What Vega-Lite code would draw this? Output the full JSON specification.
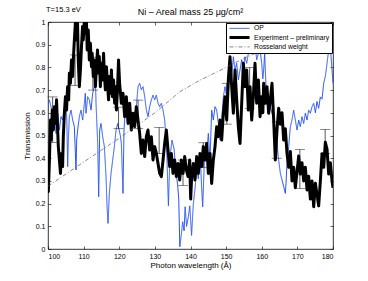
{
  "$schema": "https://vega.github.io/schema/vega-lite/v6.json",
  "width": 285,
  "height": 227,
  "autosize": {"type": "none"},
  "padding": {"left": 48, "top": 22, "right": 35, "bottom": 32},
  "background": "white",
  "config": {
    "font": "Liberation Sans",
    "view": {"stroke": "#000", "strokeWidth": 0.8},
    "axis": {"grid": false, "domain": false, "tickColor": "#000", "tickSize": -3, "tickWidth": 0.6, "labelFontSize": 7, "labelColor": "#000", "titleFontSize": 8, "titleFontWeight": "normal", "titleColor": "#000", "labelPadding": 6, "minExtent": 0},
    "legend": {"orient": "top-right", "offset": 1, "padding": 2, "rowPadding": -1.5, "labelFontSize": 6.8, "labelColor": "#000", "symbolType": "M-1,0L7,0", "symbolSize": 25, "strokeColor": "#000", "fillColor": "#fff", "labelLimit": 200, "labelOffset": 18}
  },
  "title": {"text": "Ni – Areal mass  25 μg/cm²", "fontSize": 9, "fontWeight": "normal", "offset": 5, "dy": 16, "anchor": "middle", "color": "#000"},
  "datasets": {
    "spectra": [
      {"series":"OP","wl":100.0,"T":0.64},{"series":"OP","wl":100.38,"T":0.657},{"series":"OP","wl":100.84,"T":0.627},{"series":"OP","wl":101.31,"T":0.568},{"series":"OP","wl":101.78,"T":0.598},{"series":"OP","wl":102.25,"T":0.509},{"series":"OP","wl":102.72,"T":0.598},{"series":"OP","wl":103.18,"T":0.524},{"series":"OP","wl":103.65,"T":0.583},{"series":"OP","wl":104.12,"T":0.568},{"series":"OP","wl":104.59,"T":0.627},{"series":"OP","wl":105.06,"T":0.642},{"series":"OP","wl":105.3,"T":0.553},{"series":"OP","wl":105.52,"T":0.363},{"series":"OP","wl":105.71,"T":0.48},{"series":"OP","wl":105.99,"T":0.583},{"series":"OP","wl":106.46,"T":0.612},{"series":"OP","wl":106.93,"T":0.568},{"series":"OP","wl":107.4,"T":0.539},{"series":"OP","wl":107.86,"T":0.348},{"series":"OP","wl":108.05,"T":0.48},{"series":"OP","wl":108.33,"T":0.524},{"series":"OP","wl":108.8,"T":0.583},{"series":"OP","wl":109.27,"T":0.612},{"series":"OP","wl":109.74,"T":0.568},{"series":"OP","wl":110.2,"T":0.642},{"series":"OP","wl":110.48,"T":0.686},{"series":"OP","wl":110.67,"T":0.598},{"series":"OP","wl":111.14,"T":0.671},{"series":"OP","wl":111.61,"T":0.657},{"series":"OP","wl":112.08,"T":0.612},{"series":"OP","wl":112.54,"T":0.686},{"series":"OP","wl":113.01,"T":0.715},{"series":"OP","wl":113.29,"T":0.76},{"series":"OP","wl":113.48,"T":0.642},{"series":"OP","wl":113.95,"T":0.465},{"series":"OP","wl":114.23,"T":0.23},{"series":"OP","wl":114.51,"T":0.524},{"series":"OP","wl":114.88,"T":0.553},{"series":"OP","wl":115.35,"T":0.495},{"series":"OP","wl":115.82,"T":0.451},{"series":"OP","wl":116.29,"T":0.319},{"series":"OP","wl":116.57,"T":0.186},{"series":"OP","wl":116.85,"T":0.113},{"series":"OP","wl":117.22,"T":0.245},{"series":"OP","wl":117.69,"T":0.333},{"series":"OP","wl":118.16,"T":0.392},{"series":"OP","wl":118.63,"T":0.451},{"series":"OP","wl":119.1,"T":0.524},{"series":"OP","wl":119.56,"T":0.553},{"series":"OP","wl":120.03,"T":0.52},{"series":"OP","wl":120.35,"T":0.495},{"series":"OP","wl":120.59,"T":0.465},{"series":"OP","wl":121.05,"T":0.245},{"series":"OP","wl":121.33,"T":0.524},{"series":"OP","wl":121.71,"T":0.612},{"series":"OP","wl":121.99,"T":0.642},{"series":"OP","wl":122.46,"T":0.598},{"series":"OP","wl":122.93,"T":0.612},{"series":"OP","wl":123.39,"T":0.568},{"series":"OP","wl":123.86,"T":0.553},{"series":"OP","wl":124.33,"T":0.598},{"series":"OP","wl":124.8,"T":0.627},{"series":"OP","wl":125.27,"T":0.715},{"series":"OP","wl":125.73,"T":0.73},{"series":"OP","wl":126.2,"T":0.701},{"series":"OP","wl":126.67,"T":0.715},{"series":"OP","wl":127.14,"T":0.671},{"series":"OP","wl":127.61,"T":0.612},{"series":"OP","wl":128.07,"T":0.583},{"series":"OP","wl":128.54,"T":0.627},{"series":"OP","wl":129.01,"T":0.657},{"series":"OP","wl":129.48,"T":0.678},{"series":"OP","wl":129.95,"T":0.657},{"series":"OP","wl":130.41,"T":0.678},{"series":"OP","wl":130.88,"T":0.642},{"series":"OP","wl":131.35,"T":0.627},{"series":"OP","wl":131.82,"T":0.642},{"series":"OP","wl":132.29,"T":0.612},{"series":"OP","wl":132.75,"T":0.568},{"series":"OP","wl":133.3,"T":0.45},{"series":"OP","wl":133.8,"T":0.19},{"series":"OP","wl":134.2,"T":0.4},{"series":"OP","wl":134.8,"T":0.48},{"series":"OP","wl":135.4,"T":0.44},{"series":"OP","wl":135.8,"T":0.36},{"series":"OP","wl":136.4,"T":0.28},{"series":"OP","wl":136.7,"T":0.22},{"series":"OP","wl":137.0,"T":0.01},{"series":"OP","wl":137.4,"T":0.06},{"series":"OP","wl":137.8,"T":0.12},{"series":"OP","wl":138.2,"T":0.08},{"series":"OP","wl":138.5,"T":0.186},{"series":"OP","wl":138.9,"T":0.1},{"series":"OP","wl":139.4,"T":0.142},{"series":"OP","wl":139.8,"T":0.19},{"series":"OP","wl":140.3,"T":0.06},{"series":"OP","wl":140.8,"T":0.2},{"series":"OP","wl":141.3,"T":0.27},{"series":"OP","wl":141.7,"T":0.36},{"series":"OP","wl":142.2,"T":0.31},{"series":"OP","wl":142.7,"T":0.42},{"series":"OP","wl":143.1,"T":0.28},{"series":"OP","wl":143.42,"T":0.186},{"series":"OP","wl":143.8,"T":0.35},{"series":"OP","wl":144.07,"T":0.451},{"series":"OP","wl":144.54,"T":0.421},{"series":"OP","wl":145.01,"T":0.509},{"series":"OP","wl":145.48,"T":0.392},{"series":"OP","wl":145.94,"T":0.612},{"series":"OP","wl":146.41,"T":0.568},{"series":"OP","wl":146.88,"T":0.627},{"series":"OP","wl":147.35,"T":0.612},{"series":"OP","wl":147.82,"T":0.553},{"series":"OP","wl":148.28,"T":0.48},{"series":"OP","wl":148.75,"T":0.568},{"series":"OP","wl":149.22,"T":0.671},{"series":"OP","wl":149.69,"T":0.715},{"series":"OP","wl":150.16,"T":0.671},{"series":"OP","wl":150.62,"T":0.774},{"series":"OP","wl":151.09,"T":0.803},{"series":"OP","wl":151.56,"T":0.76},{"series":"OP","wl":152.03,"T":0.847},{"series":"OP","wl":152.5,"T":0.789},{"series":"OP","wl":152.96,"T":0.818},{"series":"OP","wl":153.43,"T":0.745},{"series":"OP","wl":153.9,"T":0.789},{"series":"OP","wl":154.37,"T":0.833},{"series":"OP","wl":154.84,"T":0.803},{"series":"OP","wl":155.3,"T":0.847},{"series":"OP","wl":155.77,"T":0.818},{"series":"OP","wl":156.24,"T":0.862},{"series":"OP","wl":156.71,"T":0.892},{"series":"OP","wl":157.18,"T":0.921},{"series":"OP","wl":157.64,"T":0.877},{"series":"OP","wl":158.11,"T":0.906},{"series":"OP","wl":158.58,"T":0.833},{"series":"OP","wl":159.05,"T":0.862},{"series":"OP","wl":159.52,"T":0.877},{"series":"OP","wl":159.98,"T":0.818},{"series":"OP","wl":160.3,"T":0.75},{"series":"OP","wl":160.54,"T":0.789},{"series":"OP","wl":160.82,"T":0.862},{"series":"OP","wl":161.19,"T":0.715},{"series":"OP","wl":161.47,"T":0.642},{"series":"OP","wl":161.94,"T":0.671},{"series":"OP","wl":162.41,"T":0.627},{"series":"OP","wl":162.88,"T":0.598},{"series":"OP","wl":163.35,"T":0.568},{"series":"OP","wl":163.81,"T":0.524},{"series":"OP","wl":164.28,"T":0.465},{"series":"OP","wl":164.75,"T":0.392},{"series":"OP","wl":165.22,"T":0.333},{"series":"OP","wl":165.69,"T":0.304},{"series":"OP","wl":166.15,"T":0.275},{"series":"OP","wl":166.62,"T":0.245},{"series":"OP","wl":166.81,"T":0.289},{"series":"OP","wl":167.09,"T":0.377},{"series":"OP","wl":167.56,"T":0.451},{"series":"OP","wl":168.03,"T":0.539},{"series":"OP","wl":168.49,"T":0.568},{"series":"OP","wl":168.96,"T":0.612},{"series":"OP","wl":169.43,"T":0.568},{"series":"OP","wl":169.9,"T":0.524},{"series":"OP","wl":170.37,"T":0.568},{"series":"OP","wl":170.83,"T":0.539},{"series":"OP","wl":171.3,"T":0.583},{"series":"OP","wl":171.77,"T":0.553},{"series":"OP","wl":172.24,"T":0.598},{"series":"OP","wl":172.71,"T":0.568},{"series":"OP","wl":173.17,"T":0.612},{"series":"OP","wl":173.64,"T":0.598},{"series":"OP","wl":174.11,"T":0.627},{"series":"OP","wl":174.58,"T":0.642},{"series":"OP","wl":175.05,"T":0.6},{"series":"OP","wl":175.51,"T":0.65},{"series":"OP","wl":175.98,"T":0.62},{"series":"OP","wl":176.45,"T":0.67},{"series":"OP","wl":176.92,"T":0.66},{"series":"OP","wl":177.39,"T":0.73},{"series":"OP","wl":177.85,"T":0.76},{"series":"OP","wl":178.32,"T":0.818},{"series":"OP","wl":178.79,"T":0.877},{"series":"OP","wl":179.07,"T":0.892},{"series":"OP","wl":179.45,"T":0.848},{"series":"OP","wl":179.73,"T":0.789},{"series":"OP","wl":180.0,"T":0.73},
      {"series":"Experiment – preliminary","wl":100.0,"T":0.26},{"series":"Experiment – preliminary","wl":100.1,"T":0.253},{"series":"Experiment – preliminary","wl":100.4,"T":0.392},{"series":"Experiment – preliminary","wl":100.7,"T":0.568},{"series":"Experiment – preliminary","wl":100.9,"T":0.48},{"series":"Experiment – preliminary","wl":101.2,"T":0.612},{"series":"Experiment – preliminary","wl":101.5,"T":0.524},{"series":"Experiment – preliminary","wl":101.8,"T":0.627},{"series":"Experiment – preliminary","wl":102.1,"T":0.553},{"series":"Experiment – preliminary","wl":102.4,"T":0.657},{"series":"Experiment – preliminary","wl":102.6,"T":0.568},{"series":"Experiment – preliminary","wl":102.9,"T":0.451},{"series":"Experiment – preliminary","wl":103.2,"T":0.392},{"series":"Experiment – preliminary","wl":103.5,"T":0.333},{"series":"Experiment – preliminary","wl":103.8,"T":0.421},{"series":"Experiment – preliminary","wl":104.1,"T":0.363},{"series":"Experiment – preliminary","wl":104.3,"T":0.495},{"series":"Experiment – preliminary","wl":104.6,"T":0.598},{"series":"Experiment – preliminary","wl":104.9,"T":0.671},{"series":"Experiment – preliminary","wl":105.2,"T":0.612},{"series":"Experiment – preliminary","wl":105.5,"T":0.715},{"series":"Experiment – preliminary","wl":105.8,"T":0.657},{"series":"Experiment – preliminary","wl":106.0,"T":0.774},{"series":"Experiment – preliminary","wl":106.3,"T":0.73},{"series":"Experiment – preliminary","wl":106.6,"T":0.833},{"series":"Experiment – preliminary","wl":106.9,"T":0.76},{"series":"Experiment – preliminary","wl":107.2,"T":0.862},{"series":"Experiment – preliminary","wl":107.4,"T":0.921},{"series":"Experiment – preliminary","wl":107.7,"T":1.0},{"series":"Experiment – preliminary","wl":108.0,"T":0.921},{"series":"Experiment – preliminary","wl":108.3,"T":0.994},{"series":"Experiment – preliminary","wl":108.5,"T":0.833},{"series":"Experiment – preliminary","wl":108.8,"T":0.715},{"series":"Experiment – preliminary","wl":109.1,"T":0.789},{"series":"Experiment – preliminary","wl":109.4,"T":0.892},{"series":"Experiment – preliminary","wl":109.7,"T":0.98},{"series":"Experiment – preliminary","wl":109.9,"T":0.921},{"series":"Experiment – preliminary","wl":110.2,"T":1.0},{"series":"Experiment – preliminary","wl":110.5,"T":0.95},{"series":"Experiment – preliminary","wl":110.8,"T":1.0},{"series":"Experiment – preliminary","wl":111.0,"T":0.877},{"series":"Experiment – preliminary","wl":111.3,"T":0.965},{"series":"Experiment – preliminary","wl":111.6,"T":0.833},{"series":"Experiment – preliminary","wl":111.9,"T":0.906},{"series":"Experiment – preliminary","wl":112.2,"T":0.803},{"series":"Experiment – preliminary","wl":112.4,"T":0.862},{"series":"Experiment – preliminary","wl":112.7,"T":0.76},{"series":"Experiment – preliminary","wl":113.0,"T":0.833},{"series":"Experiment – preliminary","wl":113.3,"T":0.715},{"series":"Experiment – preliminary","wl":113.6,"T":0.803},{"series":"Experiment – preliminary","wl":113.9,"T":0.877},{"series":"Experiment – preliminary","wl":114.2,"T":0.774},{"series":"Experiment – preliminary","wl":114.4,"T":0.848},{"series":"Experiment – preliminary","wl":114.7,"T":0.715},{"series":"Experiment – preliminary","wl":115.0,"T":0.818},{"series":"Experiment – preliminary","wl":115.3,"T":0.745},{"series":"Experiment – preliminary","wl":115.6,"T":0.862},{"series":"Experiment – preliminary","wl":115.8,"T":0.774},{"series":"Experiment – preliminary","wl":116.1,"T":0.701},{"series":"Experiment – preliminary","wl":116.4,"T":0.803},{"series":"Experiment – preliminary","wl":116.7,"T":0.73},{"series":"Experiment – preliminary","wl":117.0,"T":0.657},{"series":"Experiment – preliminary","wl":117.3,"T":0.76},{"series":"Experiment – preliminary","wl":117.6,"T":0.686},{"series":"Experiment – preliminary","wl":117.8,"T":0.789},{"series":"Experiment – preliminary","wl":118.1,"T":0.671},{"series":"Experiment – preliminary","wl":118.4,"T":0.745},{"series":"Experiment – preliminary","wl":118.7,"T":0.642},{"series":"Experiment – preliminary","wl":119.0,"T":0.715},{"series":"Experiment – preliminary","wl":119.2,"T":0.612},{"series":"Experiment – preliminary","wl":119.5,"T":0.701},{"series":"Experiment – preliminary","wl":119.8,"T":0.833},{"series":"Experiment – preliminary","wl":120.1,"T":0.73},{"series":"Experiment – preliminary","wl":120.59,"T":0.642},{"series":"Experiment – preliminary","wl":121.05,"T":0.686},{"series":"Experiment – preliminary","wl":121.52,"T":0.583},{"series":"Experiment – preliminary","wl":121.99,"T":0.671},{"series":"Experiment – preliminary","wl":122.46,"T":0.553},{"series":"Experiment – preliminary","wl":122.93,"T":0.642},{"series":"Experiment – preliminary","wl":123.39,"T":0.524},{"series":"Experiment – preliminary","wl":123.86,"T":0.598},{"series":"Experiment – preliminary","wl":124.33,"T":0.539},{"series":"Experiment – preliminary","wl":124.8,"T":0.627},{"series":"Experiment – preliminary","wl":125.27,"T":0.568},{"series":"Experiment – preliminary","wl":125.73,"T":0.509},{"series":"Experiment – preliminary","wl":126.2,"T":0.421},{"series":"Experiment – preliminary","wl":126.67,"T":0.48},{"series":"Experiment – preliminary","wl":127.14,"T":0.407},{"series":"Experiment – preliminary","wl":127.61,"T":0.495},{"series":"Experiment – preliminary","wl":128.07,"T":0.524},{"series":"Experiment – preliminary","wl":128.54,"T":0.436},{"series":"Experiment – preliminary","wl":129.01,"T":0.495},{"series":"Experiment – preliminary","wl":129.48,"T":0.392},{"series":"Experiment – preliminary","wl":129.95,"T":0.451},{"series":"Experiment – preliminary","wl":130.41,"T":0.421},{"series":"Experiment – preliminary","wl":130.88,"T":0.377},{"series":"Experiment – preliminary","wl":131.35,"T":0.333},{"series":"Experiment – preliminary","wl":131.82,"T":0.319},{"series":"Experiment – preliminary","wl":132.29,"T":0.392},{"series":"Experiment – preliminary","wl":132.75,"T":0.465},{"series":"Experiment – preliminary","wl":133.22,"T":0.524},{"series":"Experiment – preliminary","wl":133.69,"T":0.436},{"series":"Experiment – preliminary","wl":134.16,"T":0.363},{"series":"Experiment – preliminary","wl":134.63,"T":0.421},{"series":"Experiment – preliminary","wl":135.09,"T":0.333},{"series":"Experiment – preliminary","wl":135.56,"T":0.392},{"series":"Experiment – preliminary","wl":136.03,"T":0.319},{"series":"Experiment – preliminary","wl":136.5,"T":0.377},{"series":"Experiment – preliminary","wl":136.97,"T":0.304},{"series":"Experiment – preliminary","wl":137.43,"T":0.392},{"series":"Experiment – preliminary","wl":137.9,"T":0.333},{"series":"Experiment – preliminary","wl":138.37,"T":0.407},{"series":"Experiment – preliminary","wl":138.84,"T":0.348},{"series":"Experiment – preliminary","wl":139.31,"T":0.319},{"series":"Experiment – preliminary","wl":139.77,"T":0.392},{"series":"Experiment – preliminary","wl":140.05,"T":0.22},{"series":"Experiment – preliminary","wl":140.33,"T":0.319},{"series":"Experiment – preliminary","wl":140.8,"T":0.377},{"series":"Experiment – preliminary","wl":141.26,"T":0.304},{"series":"Experiment – preliminary","wl":141.73,"T":0.407},{"series":"Experiment – preliminary","wl":142.2,"T":0.333},{"series":"Experiment – preliminary","wl":142.67,"T":0.421},{"series":"Experiment – preliminary","wl":143.14,"T":0.363},{"series":"Experiment – preliminary","wl":143.6,"T":0.451},{"series":"Experiment – preliminary","wl":144.07,"T":0.392},{"series":"Experiment – preliminary","wl":144.54,"T":0.465},{"series":"Experiment – preliminary","wl":145.01,"T":0.333},{"series":"Experiment – preliminary","wl":145.48,"T":0.421},{"series":"Experiment – preliminary","wl":145.94,"T":0.289},{"series":"Experiment – preliminary","wl":146.41,"T":0.392},{"series":"Experiment – preliminary","wl":146.88,"T":0.451},{"series":"Experiment – preliminary","wl":147.35,"T":0.539},{"series":"Experiment – preliminary","wl":147.82,"T":0.495},{"series":"Experiment – preliminary","wl":148.28,"T":0.568},{"series":"Experiment – preliminary","wl":148.75,"T":0.48},{"series":"Experiment – preliminary","wl":149.22,"T":0.598},{"series":"Experiment – preliminary","wl":149.69,"T":0.671},{"series":"Experiment – preliminary","wl":150.16,"T":0.568},{"series":"Experiment – preliminary","wl":150.62,"T":0.745},{"series":"Experiment – preliminary","wl":151.09,"T":0.847},{"series":"Experiment – preliminary","wl":151.56,"T":0.715},{"series":"Experiment – preliminary","wl":152.03,"T":0.598},{"series":"Experiment – preliminary","wl":152.5,"T":0.789},{"series":"Experiment – preliminary","wl":152.96,"T":0.657},{"series":"Experiment – preliminary","wl":153.43,"T":0.539},{"series":"Experiment – preliminary","wl":153.9,"T":0.465},{"series":"Experiment – preliminary","wl":154.37,"T":0.642},{"series":"Experiment – preliminary","wl":154.84,"T":0.818},{"series":"Experiment – preliminary","wl":155.3,"T":0.715},{"series":"Experiment – preliminary","wl":155.77,"T":0.789},{"series":"Experiment – preliminary","wl":156.24,"T":0.612},{"series":"Experiment – preliminary","wl":156.71,"T":0.715},{"series":"Experiment – preliminary","wl":157.18,"T":0.568},{"series":"Experiment – preliminary","wl":157.64,"T":0.671},{"series":"Experiment – preliminary","wl":158.11,"T":0.818},{"series":"Experiment – preliminary","wl":158.58,"T":0.642},{"series":"Experiment – preliminary","wl":159.05,"T":0.745},{"series":"Experiment – preliminary","wl":159.52,"T":0.583},{"series":"Experiment – preliminary","wl":159.98,"T":0.671},{"series":"Experiment – preliminary","wl":160.3,"T":0.6},{"series":"Experiment – preliminary","wl":160.54,"T":0.73},{"series":"Experiment – preliminary","wl":161.0,"T":0.642},{"series":"Experiment – preliminary","wl":161.47,"T":0.715},{"series":"Experiment – preliminary","wl":161.94,"T":0.598},{"series":"Experiment – preliminary","wl":162.41,"T":0.657},{"series":"Experiment – preliminary","wl":162.88,"T":0.73},{"series":"Experiment – preliminary","wl":163.35,"T":0.568},{"series":"Experiment – preliminary","wl":163.81,"T":0.392},{"series":"Experiment – preliminary","wl":164.28,"T":0.524},{"series":"Experiment – preliminary","wl":164.75,"T":0.62},{"series":"Experiment – preliminary","wl":165.22,"T":0.55},{"series":"Experiment – preliminary","wl":165.69,"T":0.6},{"series":"Experiment – preliminary","wl":166.15,"T":0.48},{"series":"Experiment – preliminary","wl":166.62,"T":0.53},{"series":"Experiment – preliminary","wl":167.09,"T":0.42},{"series":"Experiment – preliminary","wl":167.56,"T":0.36},{"series":"Experiment – preliminary","wl":168.03,"T":0.43},{"series":"Experiment – preliminary","wl":168.49,"T":0.3},{"series":"Experiment – preliminary","wl":168.96,"T":0.36},{"series":"Experiment – preliminary","wl":169.43,"T":0.27},{"series":"Experiment – preliminary","wl":169.9,"T":0.34},{"series":"Experiment – preliminary","wl":170.37,"T":0.41},{"series":"Experiment – preliminary","wl":170.83,"T":0.33},{"series":"Experiment – preliminary","wl":171.3,"T":0.38},{"series":"Experiment – preliminary","wl":171.77,"T":0.3},{"series":"Experiment – preliminary","wl":172.24,"T":0.36},{"series":"Experiment – preliminary","wl":172.71,"T":0.26},{"series":"Experiment – preliminary","wl":173.17,"T":0.32},{"series":"Experiment – preliminary","wl":173.64,"T":0.22},{"series":"Experiment – preliminary","wl":174.11,"T":0.3},{"series":"Experiment – preliminary","wl":174.58,"T":0.186},{"series":"Experiment – preliminary","wl":175.05,"T":0.29},{"series":"Experiment – preliminary","wl":175.51,"T":0.24},{"series":"Experiment – preliminary","wl":175.98,"T":0.19},{"series":"Experiment – preliminary","wl":176.45,"T":0.3},{"series":"Experiment – preliminary","wl":176.92,"T":0.42},{"series":"Experiment – preliminary","wl":177.39,"T":0.36},{"series":"Experiment – preliminary","wl":177.85,"T":0.47},{"series":"Experiment – preliminary","wl":178.32,"T":0.44},{"series":"Experiment – preliminary","wl":178.79,"T":0.33},{"series":"Experiment – preliminary","wl":179.26,"T":0.38},{"series":"Experiment – preliminary","wl":179.73,"T":0.3},{"series":"Experiment – preliminary","wl":180.0,"T":0.27},
      {"series":"Rosseland weight","wl":100,"T":0.277},{"series":"Rosseland weight","wl":110,"T":0.383},{"series":"Rosseland weight","wl":120,"T":0.488},{"series":"Rosseland weight","wl":130,"T":0.6},{"series":"Rosseland weight","wl":137,"T":0.693},{"series":"Rosseland weight","wl":142.7,"T":0.744},{"series":"Rosseland weight","wl":150,"T":0.8},{"series":"Rosseland weight","wl":155,"T":0.84},{"series":"Rosseland weight","wl":161.4,"T":0.884},{"series":"Rosseland weight","wl":170,"T":0.93},{"series":"Rosseland weight","wl":180,"T":0.96}
    ],
    "bars": [
      {"wl":101.3,"lo":0.47,"hi":0.67},{"wl":107.6,"lo":0.72,"hi":0.855},{"wl":112.6,"lo":0.7,"hi":0.845},{"wl":119.8,"lo":0.53,"hi":0.625},{"wl":125.3,"lo":0.53,"hi":0.656},{"wl":131.2,"lo":0.42,"hi":0.536},{"wl":137.9,"lo":0.28,"hi":0.392},{"wl":143.6,"lo":0.36,"hi":0.468},{"wl":150.2,"lo":0.55,"hi":0.73},{"wl":156.6,"lo":0.62,"hi":0.8},{"wl":164.2,"lo":0.4,"hi":0.56},{"wl":170.7,"lo":0.267,"hi":0.438},{"wl":177.8,"lo":0.42,"hi":0.527}
    ]
  },
  "layer": [
    {
      "data": {"name": "spectra"},
      "transform": [{"filter": "datum.series === 'OP'"}],
      "mark": {"type": "line", "clip": true, "strokeJoin": "round"},
      "encoding": {
        "x": {"field": "wl", "type": "quantitative", "scale": {"domain": [100, 180], "nice": false, "zero": false}, "axis": {"title": "Photon wavelength (Å)", "values": [100,110,120,130,140,150,160,170,180], "titlePadding": 2}},
        "y": {"field": "T", "type": "quantitative", "scale": {"domain": [0, 1], "nice": false}, "axis": {"title": "Transmission", "values": [0,0.1,0.2,0.3,0.4,0.5,0.6,0.7,0.8,0.9,1], "format": "~g", "titlePadding": 4}},
        "color": {"field": "series", "type": "nominal", "scale": {"domain": ["OP", "Experiment – preliminary", "Rosseland weight"], "range": ["#2450f5", "#000000", "#555555"]}, "legend": {"title": null}},
        "strokeDash": {"field": "series", "type": "nominal", "scale": {"domain": ["OP", "Experiment – preliminary", "Rosseland weight"], "range": [[1,0],[1,0],[4,2,1,2]]}, "legend": {"title": null}},
        "strokeWidth": {"field": "series", "type": "nominal", "scale": {"type": "ordinal", "domain": ["OP", "Experiment – preliminary", "Rosseland weight"], "range": [1, 3, 0.7]}, "legend": {"title": null}}
      }
    },
    {
      "data": {"name": "bars"},
      "mark": {"type": "rule", "color": "#111", "strokeWidth": 0.7},
      "encoding": {
        "x": {"field": "wl", "type": "quantitative", "axis": null},
        "y": {"field": "lo", "type": "quantitative", "axis": null},
        "y2": {"field": "hi"}
      }
    },
    {
      "data": {"name": "bars"},
      "mark": {"type": "tick", "orient": "horizontal", "color": "#111", "size": 10, "thickness": 0.7},
      "encoding": {
        "x": {"field": "wl", "type": "quantitative", "axis": null},
        "y": {"field": "lo", "type": "quantitative", "axis": null}
      }
    },
    {
      "data": {"name": "bars"},
      "mark": {"type": "tick", "orient": "horizontal", "color": "#111", "size": 10, "thickness": 0.7},
      "encoding": {
        "x": {"field": "wl", "type": "quantitative", "axis": null},
        "y": {"field": "hi", "type": "quantitative", "axis": null}
      }
    },
    {
      "data": {"name": "spectra"},
      "transform": [{"filter": "datum.series !== 'OP'"}],
      "mark": {"type": "line", "clip": true, "strokeJoin": "round"},
      "encoding": {
        "x": {"field": "wl", "type": "quantitative", "scale": {"domain": [100, 180], "nice": false, "zero": false}, "axis": {"orient": "top", "labels": false, "title": null, "labelPadding": 0, "values": [100,110,120,130,140,150,160,170,180]}},
        "y": {"field": "T", "type": "quantitative", "scale": {"domain": [0, 1], "nice": false}, "axis": {"orient": "right", "labels": false, "title": null, "labelPadding": 0, "values": [0,0.1,0.2,0.3,0.4,0.5,0.6,0.7,0.8,0.9,1]}},
        "color": {"field": "series", "type": "nominal", "scale": {"domain": ["OP", "Experiment – preliminary", "Rosseland weight"], "range": ["#2450f5", "#000000", "#555555"]}, "legend": {"title": null}},
        "strokeDash": {"field": "series", "type": "nominal", "scale": {"domain": ["OP", "Experiment – preliminary", "Rosseland weight"], "range": [[1,0],[1,0],[4,2,1,2]]}, "legend": {"title": null}},
        "strokeWidth": {"field": "series", "type": "nominal", "scale": {"type": "ordinal", "domain": ["OP", "Experiment – preliminary", "Rosseland weight"], "range": [1, 3, 0.7]}, "legend": {"title": null}}
      }
    },
    {
      "data": {"values": [{"label": "T=15.3 eV", "wl": 100, "T": 1}]},
      "mark": {"type": "text", "align": "left", "baseline": "alphabetic", "dy": -10, "dx": -2, "fontSize": 7.5, "color": "#000"},
      "encoding": {
        "x": {"field": "wl", "type": "quantitative", "axis": null},
        "y": {"field": "T", "type": "quantitative", "axis": null},
        "text": {"field": "label"}
      }
    }
  ],
  "resolve": {"axis": {"x": "independent", "y": "independent"}}
}
